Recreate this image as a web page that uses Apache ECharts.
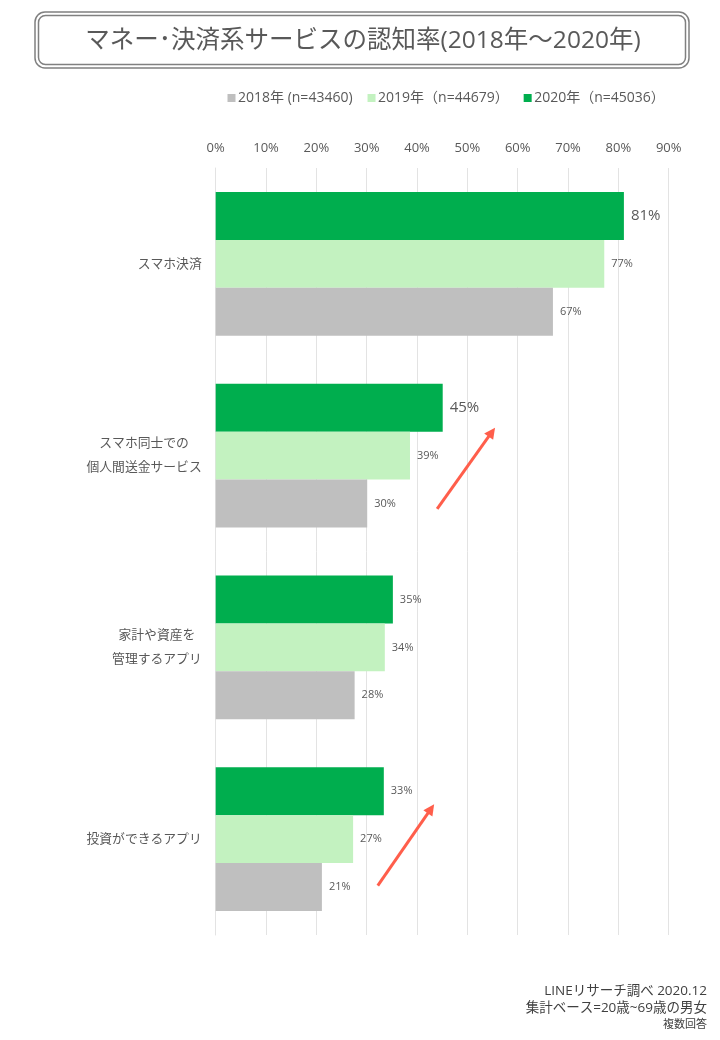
<!DOCTYPE html>
<html><head><meta charset="utf-8">
<script src="https://cdn.jsdelivr.net/npm/echarts@6/dist/echarts.min.js"></script>
<style>html,body{margin:0;padding:0;background:#fff}#c{width:720px;height:1040px}</style>
</head><body><div id="c"></div>
<script>
// ---- data ----
const categories = ['スマホ決済', 'スマホ同士での\n個人間送金サービス', '家計や資産を\n管理するアプリ', '投資ができるアプリ'];
const seriesNames = ['2018年 (n=43460)', '2019年（n=44679）', '2020年（n=45036）'];
const values2018 = [67.0, 30.1, 27.6, 21.1];
const values2019 = [77.2, 38.6, 33.6, 27.3];
const values2020 = [81.1, 45.1, 35.2, 33.4];
const xTickMin = 0, xTickMax = 90, xTickStep = 10;
const titleText = 'マネー･決済系サービスの認知率(2018年～2020年)';
const footerLines = ['LINEリサーチ調べ 2020.12', '集計ベース=20歳~69歳の男女', '複数回答'];
// annotation arrows in data space: [value, category offset from centre in band units]
const arrowNotes = [
  { cat: 1, from: [44.0, 0.278], to: [55.5, -0.146] },
  { cat: 3, from: [32.2, 0.242], to: [43.4, -0.182] }
];

const FONT = '"Open Sans", "Noto Sans CJK JP", sans-serif';
const TXT = '#595959';
const COLORS = { s2018: '#BFBFBF', s2019: '#C3F2C0', s2020: '#00AE4E' };

const chart = echarts.init(document.getElementById('c'), null, { renderer: 'canvas' });

const labelFmt = p => Math.round(p.value) + '%';
const barLabel = { show: true, position: 'right', distance: 7, fontSize: 11, color: TXT, fontFamily: FONT, formatter: labelFmt };

const data2020 = values2020.map((v, i) => i < 2 ? { value: v, label: { fontSize: 15 } } : v);

const option = {
  backgroundColor: '#fff',
  animation: false,
  textStyle: { fontFamily: FONT },
  legend: {
    data: seriesNames,
    left: 222.5, top: 86,
    itemWidth: 8, itemHeight: 8, itemGap: 15,
    icon: 'rect',
    textStyle: { fontSize: 14, color: TXT, fontFamily: FONT, padding: [0, 0, 0, -2.5] }
  },
  grid: { left: 215.7, right: 51.3, top: 168, bottom: 105, containLabel: false },
  xAxis: {
    type: 'value', position: 'top', min: xTickMin, max: xTickMax, interval: xTickStep,
    axisLine: { show: false }, axisTick: { show: false },
    axisLabel: { formatter: '{value}%', fontSize: 13, color: TXT, fontFamily: FONT, margin: 13 },
    splitLine: { lineStyle: { color: '#E3E3E3', width: 1 } }
  },
  yAxis: {
    type: 'category', inverse: true, data: categories,
    axisLine: { show: true, lineStyle: { color: '#E3E3E3' } }, axisTick: { show: false },
    axisLabel: {
      margin: 14, color: TXT, fontSize: 12.8, fontFamily: FONT, lineHeight: 24,
      formatter: v => v.split('\n').map(l => '{c|' + l + '}').join('\n'),
      rich: { c: { align: 'center', fontSize: 12.8, color: TXT, fontFamily: FONT, lineHeight: 24 } }
    }
  },
  series: [
    { name: seriesNames[2], type: 'bar', data: data2020, itemStyle: { color: COLORS.s2020 }, barGap: '0%', barCategoryGap: '25%', label: barLabel },
    { name: seriesNames[1], type: 'bar', data: values2019, itemStyle: { color: COLORS.s2019 }, barGap: '0%', barCategoryGap: '25%', label: barLabel },
    { name: seriesNames[0], type: 'bar', data: values2018, itemStyle: { color: COLORS.s2018 }, barGap: '0%', barCategoryGap: '25%', label: barLabel }
  ]
};
chart.setOption(option);

// ---- graphics: title box, footer, arrows ----
const graphics = [
  { type: 'rect', shape: { x: 35, y: 12, width: 654, height: 56, r: 10 }, style: { fill: 'none', stroke: '#808080', lineWidth: 1.5 }, z: 10 },
  { type: 'rect', shape: { x: 38.5, y: 15.5, width: 647, height: 49, r: 7 }, style: { fill: 'none', stroke: '#808080', lineWidth: 1.5 }, z: 10 },
  { type: 'text', x: 363, y: 41, style: { text: titleText, font: '24.5px ' + FONT, fill: TXT, align: 'center', verticalAlign: 'middle' }, z: 10 },
  { type: 'text', x: 707, y: 991, style: { text: footerLines[0], font: '13.5px ' + FONT, fill: '#404040', align: 'right', verticalAlign: 'middle' } },
  { type: 'text', x: 707, y: 1008, style: { text: footerLines[1], font: '13.5px ' + FONT, fill: '#404040', align: 'right', verticalAlign: 'middle' } },
  { type: 'text', x: 707, y: 1025, style: { text: footerLines[2], font: '11px ' + FONT, fill: '#404040', align: 'right', verticalAlign: 'middle' } }
];

const c0 = chart.convertToPixel({ gridIndex: 0 }, [0, categories[0]]);
const c1 = chart.convertToPixel({ gridIndex: 0 }, [0, categories[1]]);
const band = c1[1] - c0[1];
arrowNotes.forEach(a => {
  const ctr = chart.convertToPixel({ gridIndex: 0 }, [0, categories[a.cat]])[1];
  const p0 = [chart.convertToPixel({ gridIndex: 0 }, [a.from[0], categories[a.cat]])[0], ctr + a.from[1] * band];
  const p1 = [chart.convertToPixel({ gridIndex: 0 }, [a.to[0], categories[a.cat]])[0], ctr + a.to[1] * band];
  const dx = p1[0] - p0[0], dy = p1[1] - p0[1];
  const L = Math.hypot(dx, dy), ux = dx / L, uy = dy / L, px = -uy, py = ux;
  const hl = 11, hw = 5.5;
  const base = [p1[0] - ux * hl, p1[1] - uy * hl];
  graphics.push({ type: 'line', shape: { x1: p0[0], y1: p0[1], x2: base[0] + ux * 2, y2: base[1] + uy * 2 }, style: { stroke: '#FF5E4B', lineWidth: 3 }, z: 20 });
  graphics.push({ type: 'polygon', shape: { points: [p1, [base[0] + px * hw, base[1] + py * hw], [base[0] - px * hw, base[1] - py * hw]] }, style: { fill: '#FF5E4B' }, z: 20 });
});
chart.setOption({ graphic: graphics });
</script></body></html>
